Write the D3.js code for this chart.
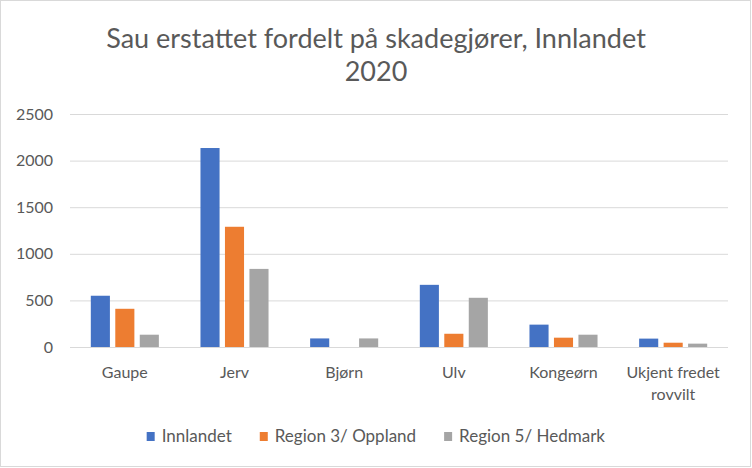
<!DOCTYPE html>
<html>
<head>
<meta charset="utf-8">
<script src="https://cdn.jsdelivr.net/npm/d3@7"></script>
<style>
  body { margin: 0; background: #fff; }
  text { font-family: Lato, "Open Sans", sans-serif; fill: #595959; }
</style>
</head>
<body>
<div class="chart"></div>
<script>
// data
let categories = ["Gaupe", "Jerv", "Bjørn", "Ulv", "Kongeørn", "Ukjent fredet rovvilt"];
let seriesNames = ["Innlandet", "Region 3/ Oppland", "Region 5/ Hedmark"];
let innlandet = [550, 2135, 92, 667, 240, 90];
let oppland = [410, 1290, 0, 142, 100, 46];
let hedmark = [132, 838, 92, 528, 132, 36];
let yTicks = [0, 500, 1000, 1500, 2000, 2500];
let colors = ["#4472C4", "#ED7D31", "#A5A5A5"];

let values = [innlandet, oppland, hedmark];
let rows = categories.map((c, i) => ({
  cat: c,
  vals: seriesNames.map((s, j) => ({ series: s, value: values[j][i] }))
}));

let W = 752, H = 468;
let margin = { top: 114, right: 24, bottom: 121, left: 70 },
  width = W - margin.left - margin.right,
  height = H - margin.top - margin.bottom;

let root = d3.select(".chart")
  .append("svg")
  .attr("width", W)
  .attr("height", H);

root.append("rect")
  .attr("x", 0.5).attr("y", 0.5)
  .attr("width", W - 2).attr("height", H - 2)
  .attr("fill", "#fff")
  .attr("stroke", "#d9d9d9");

// title
let title = root.append("text")
  .attr("text-anchor", "middle")
  .style("font-size", "27px");
title.append("tspan").attr("x", 376).attr("y", 48).text("Sau erstattet fordelt på skadegjører, Innlandet");
title.append("tspan").attr("x", 376).attr("y", 81).text("2020");

let svg = root.append("g")
  .attr("transform", "translate(" + margin.left + "," + margin.top + ")");

let x0 = d3.scaleBand().domain(categories).range([0, width]);
let x1 = d3.scaleBand().domain(seriesNames)
  .range([0, x0.bandwidth()])
  .paddingInner(0.22)
  .paddingOuter(0.85);
let y = d3.scaleLinear().domain([0, 2500]).range([height, 0]);

// gridlines
let yAxis = d3.axisLeft(y).tickValues(yTicks).tickFormat(d3.format("d")).tickSize(-width).tickPadding(17);
let yAxisGroup = svg.append("g").attr("class", "y-axis").call(yAxis);
yAxisGroup.select(".domain").remove();
yAxisGroup.selectAll("line").attr("stroke", "#d9d9d9").attr("stroke-width", 1);
yAxisGroup.selectAll("text").style("font-size", "16px").style("fill", "#595959").attr("font-family", null);

// bars
let groups = svg.selectAll(".group")
  .data(rows)
  .enter()
  .append("g")
  .attr("class", "group")
  .attr("transform", d => "translate(" + x0(d.cat) + ",0)");

groups.selectAll("rect")
  .data(d => d.vals)
  .enter()
  .append("rect")
  .attr("x", d => x1(d.series))
  .attr("y", d => y(d.value))
  .attr("width", x1.bandwidth())
  .attr("height", d => height - y(d.value))
  .attr("fill", (d, i) => colors[i]);

// baseline on top of bars
svg.append("line")
  .attr("x1", 0).attr("x2", width)
  .attr("y1", height + 0.5).attr("y2", height + 0.5)
  .attr("stroke", "#d9d9d9");

// category labels, wrapped to fit the band
let labels = svg.selectAll(".cat")
  .data(categories)
  .enter()
  .append("text")
  .attr("class", "cat")
  .attr("text-anchor", "middle")
  .style("font-size", "16px")
  .attr("x", d => x0(d) + x0.bandwidth() / 2)
  .attr("y", height + 31);

labels.each(function(d) {
  let t = d3.select(this);
  let words = d.split(" ");
  let line = [];
  let tspan = t.append("tspan").attr("x", t.attr("x")).attr("dy", 0);
  words.forEach(w => {
    line.push(w);
    tspan.text(line.join(" "));
    if (tspan.node().getComputedTextLength() > x0.bandwidth() - 4 && line.length > 1) {
      line.pop();
      tspan.text(line.join(" "));
      line = [w];
      tspan = t.append("tspan").attr("x", t.attr("x")).attr("dy", "1.4em").text(w);
    }
  });
});

// legend
let legend = root.append("g").attr("class", "legend");
let items = legend.selectAll("g")
  .data(seriesNames)
  .enter()
  .append("g");
items.append("rect")
  .attr("width", 8).attr("height", 9)
  .attr("y", -10)
  .attr("fill", (d, i) => colors[i]);
items.append("text")
  .attr("x", 15)
  .style("font-size", "17px")
  .text(d => d);

let gap = 28;
let pos = 0;
let offsets = [];
items.each(function() {
  offsets.push(pos);
  pos += this.getBBox().width + gap;
});
let total = pos - gap;
let startX = (W - total) / 2;
items.attr("transform", (d, i) => "translate(" + (startX + offsets[i]) + ",442)");
</script>
</body>
</html>
